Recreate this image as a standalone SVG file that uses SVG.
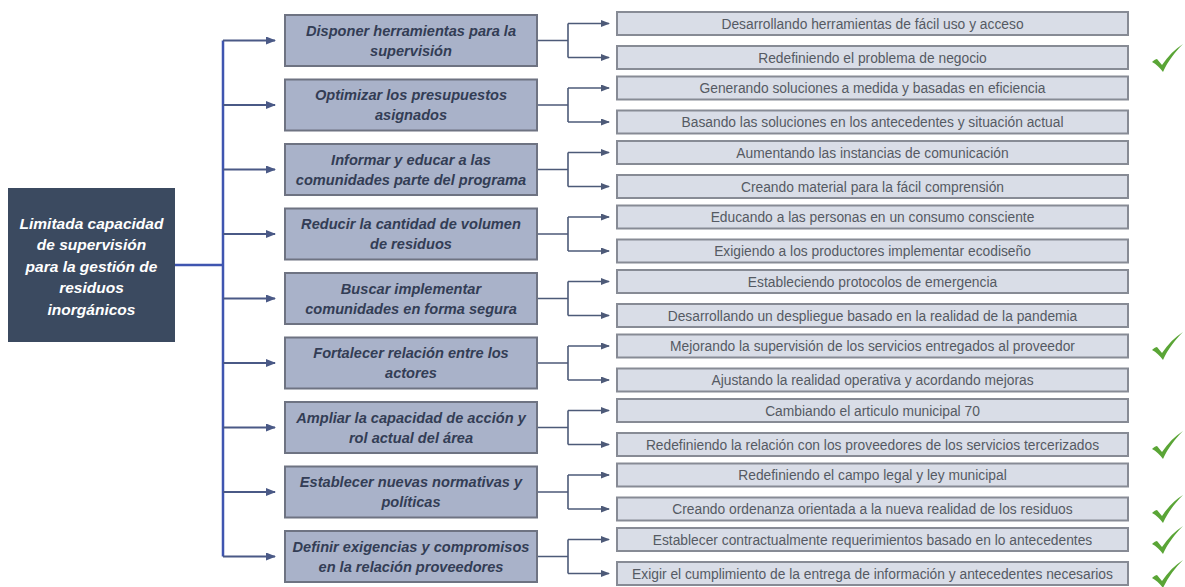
<svg xmlns="http://www.w3.org/2000/svg" width="1185" height="587" viewBox="0 0 1185 587">
  <style>
    .root { fill: #3b4a60; }
    .root-t { fill: #ffffff; font-family: "Liberation Sans", Arial, sans-serif; font-weight: bold; font-style: italic; font-size: 15.5px; text-anchor: middle; }
    .goal { fill: #a9b2c9; stroke: #6e7382; stroke-width: 2; }
    .goal-t { fill: #333d55; font-family: "Liberation Sans", Arial, sans-serif; font-weight: bold; font-style: italic; font-size: 14.6px; text-anchor: middle; }
    .act { fill: #d9dde7; stroke: #878b95; stroke-width: 2; }
    .act-t { fill: #555a63; font-family: "Liberation Sans", Arial, sans-serif; font-size: 13.8px; text-anchor: middle; }
    .trunk { stroke: #3f55b0; stroke-width: 2.5; fill: none; }
    .feed { stroke: #4a5986; stroke-width: 2; fill: none; }
    .branch { stroke: #4d5a78; stroke-width: 1.6; fill: none; }
    .check { fill: #5aa536; }
  </style>
  <defs>
    <marker id="ah" markerUnits="userSpaceOnUse" markerWidth="10" markerHeight="8" refX="9" refY="4" orient="auto">
      <path d="M0,0 L10,4 L0,8 Z" fill="#4a5986"/>
    </marker>
    <marker id="ah2" markerUnits="userSpaceOnUse" markerWidth="9" markerHeight="7" refX="8" refY="3.5" orient="auto">
      <path d="M0,0 L9,3.5 L0,7 Z" fill="#4d5a78"/>
    </marker>
    <!-- brush-style tick -->
    <path id="tick" d="M1,18 C3,16 5,15 6,15 L11,21 C17,12 24,5 32,0 C24,8 17,17 12,28 C9,24 5,20 1,18 Z"/>
  </defs>

  <!-- connectors -->
  <g id="connectors">
    <path class="trunk" d="M175,265 H223 M223,40.5 V556.5"/>
    <g class="feed" marker-end="url(#ah)">
      <path d="M223,40.5 H275"/>
      <path d="M223,105 H275"/>
      <path d="M223,169.5 H275"/>
      <path d="M223,234 H275"/>
      <path d="M223,298.5 H275"/>
      <path d="M223,363 H275"/>
      <path d="M223,427.5 H275"/>
      <path d="M223,492 H275"/>
      <path d="M223,556.5 H275"/>
    </g>
    <g class="branch">
      <path d="M537,40.5 H568 M568,23.5 V57.5"/>
      <path d="M537,105 H568 M568,88 V122"/>
      <path d="M537,169.5 H568 M568,152.5 V186.5"/>
      <path d="M537,234 H568 M568,217 V251"/>
      <path d="M537,298.5 H568 M568,281.5 V315.5"/>
      <path d="M537,363 H568 M568,346 V380"/>
      <path d="M537,427.5 H568 M568,410.5 V444.5"/>
      <path d="M537,492 H568 M568,475 V509"/>
      <path d="M537,556.5 H568 M568,539.5 V573.5"/>
    </g>
    <g class="branch" marker-end="url(#ah2)">
      <path d="M568,23.5 H609"/><path d="M568,57.5 H609"/>
      <path d="M568,88 H609"/><path d="M568,122 H609"/>
      <path d="M568,152.5 H609"/><path d="M568,186.5 H609"/>
      <path d="M568,217 H609"/><path d="M568,251 H609"/>
      <path d="M568,281.5 H609"/><path d="M568,315.5 H609"/>
      <path d="M568,346 H609"/><path d="M568,380 H609"/>
      <path d="M568,410.5 H609"/><path d="M568,444.5 H609"/>
      <path d="M568,475 H609"/><path d="M568,509 H609"/>
      <path d="M568,539.5 H609"/><path d="M568,573.5 H609"/>
    </g>
  </g>

  <!-- root problem -->
  <g id="root">
    <rect class="root" x="8" y="188" width="167" height="154"/>
    <text class="root-t" x="91.5" y="228.5">Limitada capacidad</text>
    <text class="root-t" x="91.5" y="250">de supervisión</text>
    <text class="root-t" x="91.5" y="271.5">para la gestión de</text>
    <text class="root-t" x="91.5" y="293">residuos</text>
    <text class="root-t" x="91.5" y="314.5">inorgánicos</text>
  </g>

  <!-- objectives -->
  <g id="goal-1"><rect class="goal" x="285" y="15" width="252" height="51"/>
    <text class="goal-t" x="411" y="35.5">Disponer herramientas para la</text><text class="goal-t" x="411" y="55.5">supervisión</text></g>
  <g id="goal-2"><rect class="goal" x="285" y="79.5" width="252" height="51"/>
    <text class="goal-t" x="411" y="100">Optimizar los presupuestos</text><text class="goal-t" x="411" y="120">asignados</text></g>
  <g id="goal-3"><rect class="goal" x="285" y="144" width="252" height="51"/>
    <text class="goal-t" x="411" y="164.5">Informar y educar a las</text><text class="goal-t" x="411" y="184.5">comunidades parte del programa</text></g>
  <g id="goal-4"><rect class="goal" x="285" y="208.5" width="252" height="51"/>
    <text class="goal-t" x="411" y="229">Reducir la cantidad de volumen</text><text class="goal-t" x="411" y="249">de residuos</text></g>
  <g id="goal-5"><rect class="goal" x="285" y="273" width="252" height="51"/>
    <text class="goal-t" x="411" y="293.5">Buscar implementar</text><text class="goal-t" x="411" y="313.5">comunidades  en forma segura</text></g>
  <g id="goal-6"><rect class="goal" x="285" y="337.5" width="252" height="51"/>
    <text class="goal-t" x="411" y="358">Fortalecer relación entre los</text><text class="goal-t" x="411" y="378">actores</text></g>
  <g id="goal-7"><rect class="goal" x="285" y="402" width="252" height="51"/>
    <text class="goal-t" x="411" y="422.5">Ampliar la capacidad de acción y</text><text class="goal-t" x="411" y="442.5">rol actual del área</text></g>
  <g id="goal-8"><rect class="goal" x="285" y="466.5" width="252" height="51"/>
    <text class="goal-t" x="411" y="487">Establecer nuevas normativas y</text><text class="goal-t" x="411" y="507">políticas</text></g>
  <g id="goal-9"><rect class="goal" x="285" y="531" width="252" height="51"/>
    <text class="goal-t" x="411" y="551.5">Definir exigencias  y compromisos</text><text class="goal-t" x="411" y="571.5">en la relación proveedores</text></g>

  <!-- actions -->
  <g id="act-1"><rect class="act" x="617" y="12" width="511" height="23"/><text class="act-t" x="872.5" y="28.5">Desarrollando herramientas de fácil uso y acceso</text></g>
  <g id="act-2"><rect class="act" x="617" y="46" width="511" height="23"/><text class="act-t" x="872.5" y="62.5">Redefiniendo el problema de negocio</text></g>
  <g id="act-3"><rect class="act" x="617" y="76.5" width="511" height="23"/><text class="act-t" x="872.5" y="93">Generando soluciones a medida y basadas en eficiencia</text></g>
  <g id="act-4"><rect class="act" x="617" y="110.5" width="511" height="23"/><text class="act-t" x="872.5" y="127">Basando las soluciones en los antecedentes y situación actual</text></g>
  <g id="act-5"><rect class="act" x="617" y="141" width="511" height="23"/><text class="act-t" x="872.5" y="157.5">Aumentando las instancias de comunicación</text></g>
  <g id="act-6"><rect class="act" x="617" y="175" width="511" height="23"/><text class="act-t" x="872.5" y="191.5">Creando material para la fácil comprensión</text></g>
  <g id="act-7"><rect class="act" x="617" y="205.5" width="511" height="23"/><text class="act-t" x="872.5" y="222">Educando a las personas en un consumo consciente</text></g>
  <g id="act-8"><rect class="act" x="617" y="239.5" width="511" height="23"/><text class="act-t" x="872.5" y="256">Exigiendo a los productores implementar ecodiseño</text></g>
  <g id="act-9"><rect class="act" x="617" y="270" width="511" height="23"/><text class="act-t" x="872.5" y="286.5">Estableciendo protocolos de emergencia</text></g>
  <g id="act-10"><rect class="act" x="617" y="304" width="511" height="23"/><text class="act-t" x="872.5" y="320.5">Desarrollando un despliegue basado en la realidad de la pandemia</text></g>
  <g id="act-11"><rect class="act" x="617" y="334.5" width="511" height="23"/><text class="act-t" x="872.5" y="351">Mejorando la supervisión de los servicios entregados al proveedor</text></g>
  <g id="act-12"><rect class="act" x="617" y="368.5" width="511" height="23"/><text class="act-t" x="872.5" y="385">Ajustando la realidad operativa y acordando mejoras</text></g>
  <g id="act-13"><rect class="act" x="617" y="399" width="511" height="23"/><text class="act-t" x="872.5" y="415.5">Cambiando el articulo municipal 70</text></g>
  <g id="act-14"><rect class="act" x="617" y="433" width="511" height="23"/><text class="act-t" x="872.5" y="449.5">Redefiniendo la relación con los proveedores de los servicios tercerizados</text></g>
  <g id="act-15"><rect class="act" x="617" y="463.5" width="511" height="23"/><text class="act-t" x="872.5" y="480">Redefiniendo el campo legal y ley municipal</text></g>
  <g id="act-16"><rect class="act" x="617" y="497.5" width="511" height="23"/><text class="act-t" x="872.5" y="514">Creando ordenanza orientada a la nueva realidad de los residuos</text></g>
  <g id="act-17"><rect class="act" x="617" y="528" width="511" height="23"/><text class="act-t" x="872.5" y="544.5">Establecer contractualmente requerimientos basado en lo antecedentes</text></g>
  <g id="act-18"><rect class="act" x="617" y="562" width="511" height="23"/><text class="act-t" x="872.5" y="578.5">Exigir el cumplimiento de la entrega de información y antecedentes necesarios</text></g>

  <!-- check marks -->
  <g id="checks" class="check">
    <use href="#tick" x="1151" y="44"/>
    <use href="#tick" x="1151" y="332"/>
    <use href="#tick" x="1151" y="431"/>
    <use href="#tick" x="1151" y="495"/>
    <use href="#tick" x="1151" y="526"/>
    <use href="#tick" x="1151" y="560"/>
  </g>
</svg>
